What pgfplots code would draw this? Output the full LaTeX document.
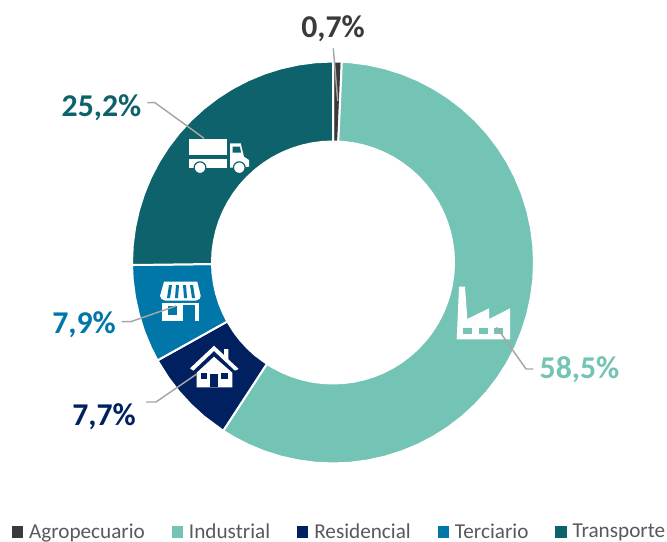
\documentclass[border=0pt]{standalone}
\usepackage{pgfplots}
\pgfplotsset{compat=1.18}
\usepgfplotslibrary{polar}
\usepackage{fontspec}
\setmainfont{Carlito}
\definecolor{cAgro}{HTML}{3A3A3C}
\definecolor{cInd}{HTML}{73C4B5}
\definecolor{cRes}{HTML}{002060}
\definecolor{cTer}{HTML}{0077A8}
\definecolor{cTra}{HTML}{0D626B}
\definecolor{cLine}{HTML}{A6A6A6}
\definecolor{cLeg}{HTML}{595959}
\pgfplotsset{
  base/.style={scale only axis,width=500.25pt,height=406.5pt,hide axis,clip=false},
  wedge/.style={data cs=polar,fill=#1,draw=white,line width=1.5pt,
    area legend,
    legend image code/.code={\fill[#1] (0pt,-3.56pt) rectangle (7.1pt,3.56pt);}},
  icon/.style={fill=#1,draw=none},
  lead/.style={draw=cLine,line width=1.1pt},
}
\begin{document}
\begin{tikzpicture}
\useasboundingbox (0,0) rectangle (500.25pt,406.5pt);
\begin{axis}[base,at={(0,0)},anchor=south west,
  xmin=-333,xmax=334,ymin=-279.5,ymax=262.5,
  legend columns=5,
  legend style={draw=none,fill=none,at={(0.0169,0.0185)},anchor=west,inner xsep=0pt,inner ysep=0pt,
    font=\fontsize{15.9}{18}\selectfont\color{cLeg},
    /tikz/every even column/.append style={column sep=20pt},
    nodes={inner xsep=0pt,inner ysep=0pt}},
  legend cell align=left]
% Agropecuario 0.7
\addplot[wedge=cAgro] coordinates {(90,201) (87.48,201) (87.48,121) (90,121)} -- cycle;
\addlegendentry{\hspace{4.5pt}Agropecuario}
% Industrial 58.5
\addplot[wedge=cInd] coordinates {(87.48,201) (85,201) (80,201) (75,201) (70,201) (65,201) (60,201) (55,201) (50,201) (45,201) (40,201) (35,201) (30,201) (25,201) (20,201) (15,201) (10,201) (5,201) (0,201) (-5,201) (-10,201) (-15,201) (-20,201) (-25,201) (-30,201) (-35,201) (-40,201) (-45,201) (-50,201) (-55,201) (-60,201) (-65,201) (-70,201) (-75,201) (-80,201) (-85,201) (-90,201) (-95,201) (-100,201) (-105,201) (-110,201) (-115,201) (-120,201) (-123.12,201)
 (-123.12,121) (-120,121) (-115,121) (-110,121) (-105,121) (-100,121) (-95,121) (-90,121) (-85,121) (-80,121) (-75,121) (-70,121) (-65,121) (-60,121) (-55,121) (-50,121) (-45,121) (-40,121) (-35,121) (-30,121) (-25,121) (-20,121) (-15,121) (-10,121) (-5,121) (0,121) (5,121) (10,121) (15,121) (20,121) (25,121) (30,121) (35,121) (40,121) (45,121) (50,121) (55,121) (60,121) (65,121) (70,121) (75,121) (80,121) (85,121) (87.48,121)} -- cycle;
\addlegendentry{\hspace{4.5pt}Industrial}
% Residencial 7.7
\addplot[wedge=cRes] coordinates {(209.16,201) (215,201) (220,201) (225,201) (230,201) (236.88,201) (236.88,121) (230,121) (225,121) (220,121) (215,121) (209.16,121)} -- cycle;
\addlegendentry{\hspace{4.5pt}Residencial}
% Terciario 7.9
\addplot[wedge=cTer] coordinates {(180.72,201) (185,201) (190,201) (195,201) (200,201) (205,201) (209.16,201) (209.16,121) (205,121) (200,121) (195,121) (190,121) (185,121) (180.72,121)} -- cycle;
\addlegendentry{\hspace{4.5pt}Terciario}
% Transporte 25.2
\addplot[wedge=cTra] coordinates {(90,201) (95,201) (100,201) (105,201) (110,201) (115,201) (120,201) (125,201) (130,201) (135,201) (140,201) (145,201) (150,201) (155,201) (160,201) (165,201) (170,201) (175,201) (180,201) (180.72,201)
 (180.72,121) (180,121) (175,121) (170,121) (165,121) (160,121) (155,121) (150,121) (145,121) (140,121) (135,121) (130,121) (125,121) (120,121) (115,121) (110,121) (105,121) (100,121) (95,121) (90,121)} -- cycle;
\addlegendentry{\hspace{4.5pt}Transporte}
\end{axis}
\begin{axis}[base,at={(0,0)},anchor=south west,xmin=0,xmax=667,ymin=0,ymax=542,y dir=reverse]
% truck
\addplot[icon=white] coordinates {(188.7,139.3) (227.3,139.3) (227.3,155) (188.7,155)} -- cycle;
\addplot[icon=white] coordinates {(188.7,159) (227.3,159) (227.3,167.7) (188.7,167.7)} -- cycle;
\addplot[icon=white] coordinates {(230,143.3) (240.7,143.3) (244,156.7) (249,160) (249,166.7) (230,167.7)} -- cycle;
\addplot[icon=cTra] coordinates {(232.7,146.7) (240,146.7) (241,152.7) (232.7,152.7)} -- cycle;
\addplot[only marks,mark=*,mark size=4.4pt,mark options={fill=white,draw=cTra,line width=0.9pt}] coordinates {(200,167.7) (239.3,167.7)};
% factory
\addplot[icon=white] coordinates {(459,286.7) (465,286.7) (467.3,319) (489,308.3) (489.3,319) (510,308.3) (510,339.3) (456.7,339.3)} -- cycle;
\addplot[icon=cInd] coordinates {(463.3,327.7) (472.3,327.7) (472.3,334) (463.3,334)} -- cycle;
\addplot[icon=cInd] coordinates {(478.7,327.7) (487.7,327.7) (487.7,334) (478.7,334)} -- cycle;
\addplot[icon=cInd] coordinates {(494,327.7) (503.3,327.7) (503.3,334) (494,334)} -- cycle;
% house
\addplot[icon=white] coordinates {(190,368.3) (214,345.7) (224,355) (224,349) (228.3,349) (228.3,359.3) (238.7,369) (235,370.7) (214,351) (193.3,370.7)} -- cycle;
\addplot[icon=white] coordinates {(196.7,372.7) (214,356.7) (232.3,372.7) (232.3,387.3) (196.7,387.3)} -- cycle;
\addplot[icon=cRes] coordinates {(201,372.7) (207.3,372.7) (207.3,379.3) (201,379.3)} -- cycle;
\addplot[icon=cRes] coordinates {(221,372.7) (228.3,372.7) (228.3,379.3) (221,379.3)} -- cycle;
\addplot[icon=cRes] coordinates {(210,374) (218.3,374) (218.3,387.3) (210,387.3)} -- cycle;
% store
\addplot[icon=white] coordinates {(164,281.7) (197.3,281.7) (200.7,296) (199.5,299) (196,300.5) (165,300.5) (161.5,299) (160,296)} -- cycle;
\addplot[icon=cTer] coordinates {(169,285) (172,285) (170,298) (167,298)} -- cycle;
\addplot[icon=cTer] coordinates {(176,285) (179,285) (178,298) (175,298)} -- cycle;
\addplot[icon=cTer] coordinates {(183,285) (186,285) (187,298) (184,298)} -- cycle;
\addplot[icon=cTer] coordinates {(190,285) (193,285) (195,298) (192,298)} -- cycle;
\addplot[icon=white] coordinates {(162.3,303) (199.3,303) (199.3,320.7) (162.3,320.7)} -- cycle;
\addplot[icon=cTer] coordinates {(168.3,306) (176.7,306) (176.7,315) (168.3,315)} -- cycle;
\addplot[icon=cTer] coordinates {(183.3,305) (195,305) (195,320.7) (183.3,320.7)} -- cycle;
% leaders
\addplot[lead] coordinates {(333.3,48.3) (337.7,101)};
\addplot[lead] coordinates {(147.3,102.7) (155,102.7) (204,138.3)};
\addplot[lead] coordinates {(121.7,321.7) (130.7,321.7) (176,306)};
\addplot[lead] coordinates {(146,402) (156,402) (196.7,374)};
\addplot[lead] coordinates {(496.7,327.3) (526,369) (533.3,369)};
% labels
\newcommand{\lab}{\fontsize{23.8}{26}\selectfont\bfseries}
\node[text=cAgro,font=\lab] at (axis cs:333,29) {0,7\%};
\node[text=cTra,font=\lab] at (axis cs:101.5,107.5) {25,2\%};
\node[text=cTer,font=\lab] at (axis cs:84,324.5) {7,9\%};
\node[text=cRes,font=\lab] at (axis cs:104,416.5) {7,7\%};
\node[text=cInd,font=\lab] at (axis cs:579.5,369.5) {58,5\%};
\end{axis}
\end{tikzpicture}
\end{document}
